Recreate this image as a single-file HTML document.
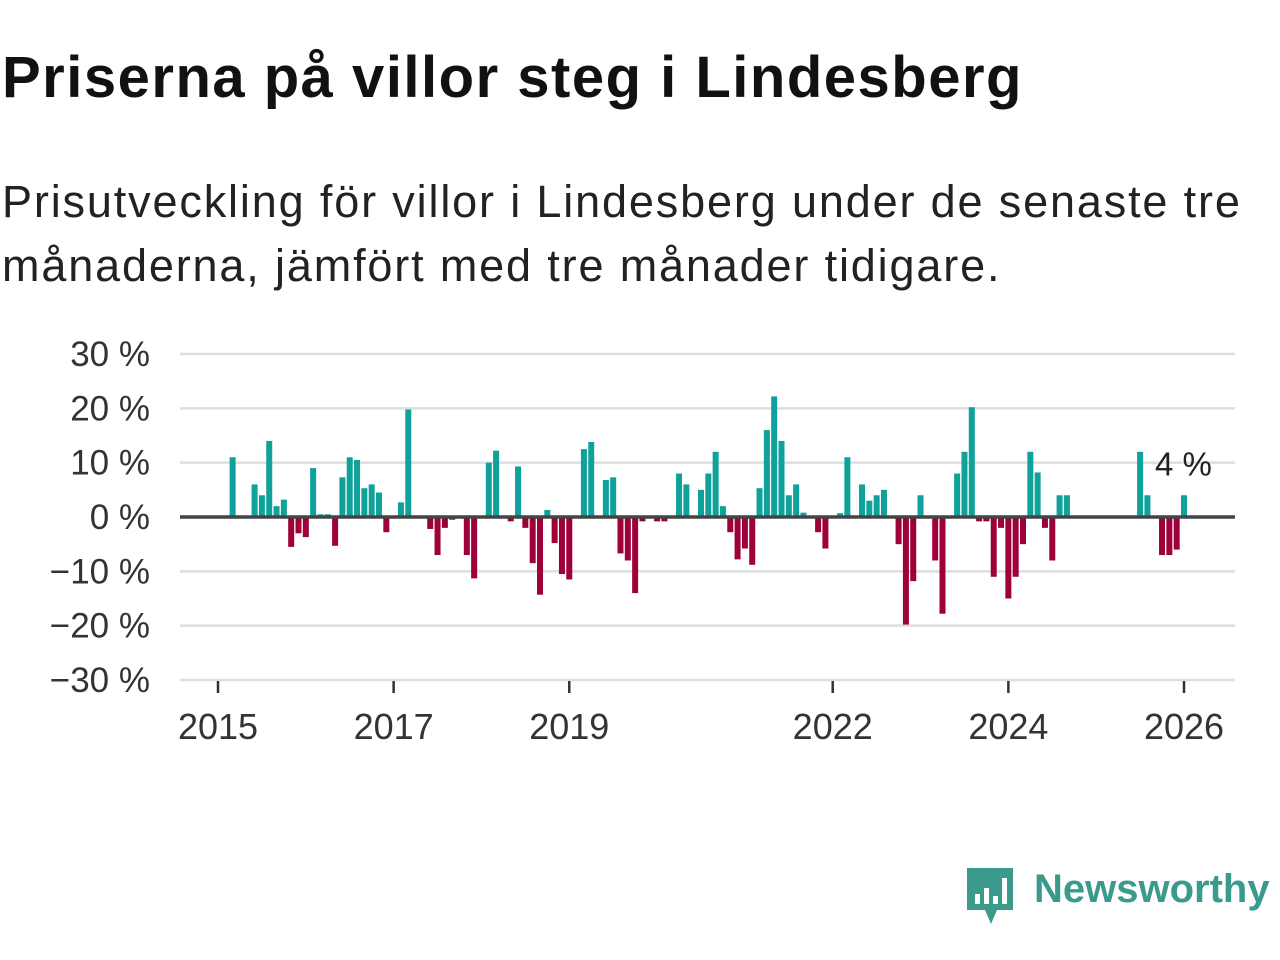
<!DOCTYPE html>
<html><head><meta charset="utf-8">
<style>
html,body{margin:0;padding:0;background:#fff;width:1280px;height:960px;overflow:hidden;font-family:"Liberation Sans","DejaVu Sans",sans-serif;}
#title{position:absolute;left:2px;top:44px;font-size:58px;font-weight:bold;color:#111;margin:0;letter-spacing:1.5px;white-space:nowrap;}
#sub{position:absolute;left:2px;top:170px;font-size:45px;color:#222;line-height:64px;width:1278px;letter-spacing:1.85px;}
svg{position:absolute;left:0;top:0;}
</style></head><body>
<h1 id="title">Priserna på villor steg i Lindesberg</h1>
<div id="sub">Prisutveckling för villor i Lindesberg under de senaste tre månaderna, jämfört med tre månader tidigare.</div>
<svg id="chart" width="1280" height="960"></svg>
<div style="position:absolute;left:965px;top:866px;">
<svg width="52" height="60" style="position:absolute;left:0;top:0"><path d="M2 2 H48 V44 H32 L26 58 L20 44 H2 Z" fill="#3a9a8c"/><rect x="10" y="28" width="5" height="10" fill="#fff"/><rect x="19" y="22" width="5" height="16" fill="#fff"/><rect x="28" y="30" width="5" height="8" fill="#fff"/><rect x="37" y="12" width="5" height="26" fill="#fff"/></svg>
<div style="position:absolute;left:69px;top:1px;font-size:40px;color:#3a9a8c;font-weight:bold;white-space:nowrap;">Newsworthy</div>
</div>
<script>
const months = [2,5,6,7,8,9,10,11,12,13,14,15,16,17,18,19,20,21,22,23,25,26,29,30,31,32,34,35,37,38,40,41,42,43,44,45,46,47,48,50,51,53,54,55,56,57,58,60,61,63,64,66,67,68,69,70,71,72,73,74,75,76,77,78,79,80,82,83,85,86,88,89,90,91,93,94,95,96,98,99,101,102,103,104,105,106,107,108,109,110,111,112,113,114,115,116,126,127,129,130,131,132];
const values = [11,6,4,14,2,3.2,-5.5,-3,-3.7,9,0.5,0.5,-5.3,7.3,11,10.5,5.3,6,4.5,-2.8,2.7,19.8,-2.2,-7,-2,-0.5,-7,-11.3,10,12.2,-0.8,9.3,-2,-8.5,-14.3,1.3,-4.8,-10.5,-11.5,12.5,13.8,6.8,7.3,-6.7,-8,-14,-0.8,-0.8,-0.8,8,6,5,8,12,2,-2.8,-7.8,-5.8,-8.8,5.3,16,22.2,14,4,6,0.8,-2.8,-5.8,0.7,11,6,3,4,5,-5,-19.8,-11.8,4,-8,-17.8,8,12,20.2,-0.8,-0.8,-11,-2,-15,-11,-5,12,8.2,-2,-8,4,4,12,4,-7,-7,-6,4];
const yTicks = [30,20,10,0,-10,-20,-30];
const yTickLabels = ["30 %","20 %","10 %","0 %","\u221210 %","\u221220 %","\u221230 %"];
const xTickYears = [2015,2017,2019,2022,2024,2026];
const lastLabel = "4 %";

const svg = document.getElementById('chart');
const NS = 'http://www.w3.org/2000/svg';
const x0 = 218, monthW = (1184-218)/132;
const y0 = 517, pct = (681-355)/60;
const X = m => x0 + m*monthW;
const Y = v => y0 - v*pct;
function mk(t, a){const e=document.createElementNS(NS,t);for(const k in a)e.setAttribute(k,a[k]);svg.appendChild(e);return e;}
yTicks.forEach((t,i)=>{
  if(t!==0){const g=mk('line',{x1:180,x2:1235,y1:Y(t),y2:Y(t),stroke:'#dedede','stroke-width':2.5});
  
  }
  const l=mk('text',{x:150,y:Y(t)+12,'text-anchor':'end','font-size':35,fill:'#333','font-family':'Liberation Sans, sans-serif'});
  l.textContent=yTickLabels[i];
  
  
});
xTickYears.forEach(yr=>{
  const xx=X((yr-2015)*12);
  const t=mk('line',{x1:xx,x2:xx,y1:681,y2:693,stroke:'#333','stroke-width':2.5});
  
  
  const l=mk('text',{x:xx,y:739,'text-anchor':'middle','font-size':36,fill:'#333','font-family':'Liberation Sans, sans-serif'});
  l.textContent=yr;
  
  
});
months.forEach((m,i)=>{
  const v=values[i];
  const b=mk('rect',{x:X(m)-3,width:6,y:Math.min(Y(v),y0),height:Math.abs(Y(v)-y0),fill:v>=0?'#0ea29a':'#9e003a'});
  
  
});
const z=mk('line',{x1:180,x2:1235,y1:y0,y2:y0,stroke:'#444','stroke-width':3.5});


const lv=values[values.length-1];
const lab=mk('text',{x:1155,y:Y(lv)-20,'font-size':33,fill:'#222','font-family':'Liberation Sans, sans-serif'});
lab.textContent=lastLabel;


</script>
</body></html>
